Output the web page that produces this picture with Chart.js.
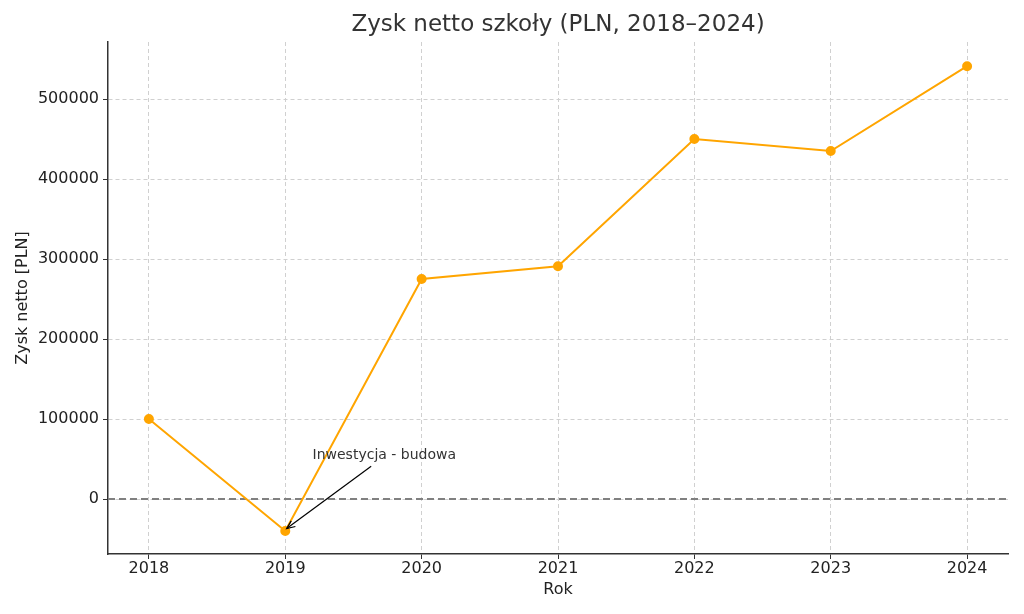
<!DOCTYPE html>
<html>
<head>
<meta charset="utf-8">
<script src="https://cdn.jsdelivr.net/npm/chart.js"></script>
<style>
  html, body { margin: 0; padding: 0; background: #fff; }
  #wrap { width: 1024px; height: 614px; }
</style>
</head>
<body>
<div id="wrap"><canvas id="profitChart" width="1024" height="614"></canvas></div>
<script>
// data
const years = [2018, 2019, 2020, 2021, 2022, 2023, 2024];
const netProfit = [100000, -40000, 275000, 291000, 450000, 435000, 541000];
const yTicks = [0, 100000, 200000, 300000, 400000, 500000];

// annotation: text position and arrow in data units
const noteText = 'Inwestycja - budowa';
const noteAt = [2019.2, 55000];
const arrowFrom = [2019.63, 41000];
const arrowTo = [2019.01, -37000];

const titleText = 'Zysk netto szkoły (PLN, 2018–2024)';
const font = "'DejaVu Sans', sans-serif";

// title centred over the plot area, like matplotlib does it
const titlePlugin = {
    id: 'plotTitle',
    afterDraw(chart) {
        const { ctx, chartArea } = chart;
        ctx.save();
        ctx.font = '23px ' + font;
        ctx.fillStyle = '#333';
        ctx.textAlign = 'center';
        ctx.textBaseline = 'middle';
        ctx.fillText(titleText, (chartArea.left + chartArea.right) / 2, 25);
        ctx.restore();
    }
};

// draws the annotation text + arrow
const notePlugin = {
    id: 'note',
    afterDatasetsDraw(chart) {
        const { ctx, scales: { x, y } } = chart;
        ctx.save();
        ctx.font = '14px ' + font;
        ctx.fillStyle = '#333';
        ctx.textBaseline = 'middle';
        ctx.fillText(noteText, x.getPixelForValue(noteAt[0]), y.getPixelForValue(noteAt[1]));

        const x1 = x.getPixelForValue(arrowFrom[0]), y1 = y.getPixelForValue(arrowFrom[1]);
        const x2 = x.getPixelForValue(arrowTo[0]), y2 = y.getPixelForValue(arrowTo[1]);
        ctx.strokeStyle = '#000';
        ctx.lineWidth = 1.2;
        ctx.beginPath();
        ctx.moveTo(x1, y1);
        ctx.lineTo(x2, y2);
        ctx.stroke();
        const a = Math.atan2(y2 - y1, x2 - x1);
        const len = 9;
        ctx.beginPath();
        ctx.moveTo(x2 - len * Math.cos(a - 0.4), y2 - len * Math.sin(a - 0.4));
        ctx.lineTo(x2, y2);
        ctx.lineTo(x2 - len * Math.cos(a + 0.4), y2 - len * Math.sin(a + 0.4));
        ctx.stroke();
        ctx.restore();
    }
};

const xMin = 2017.7, xMax = 2024.3;

new Chart(document.getElementById('profitChart'), {
    type: 'line',
    data: {
        datasets: [
            {
                label: 'zero',
                data: [{ x: xMin, y: 0 }, { x: xMax, y: 0 }],
                borderColor: '#808080',
                borderWidth: 2,
                borderDash: [7, 4],
                pointRadius: 0,
                order: 2,
            },
            {
                label: 'Zysk netto',
                data: years.map((yr, i) => ({ x: yr, y: netProfit[i] })),
                borderColor: '#FFA500',
                backgroundColor: '#FFA500',
                borderWidth: 2,
                pointRadius: 4,
                pointHoverRadius: 4,
                tension: 0,
                order: 1,
            },
        ],
    },
    options: {
        responsive: false,
        animation: false,
        layout: { padding: { left: 8, right: 16, top: 42, bottom: 0 } },
        plugins: {
            legend: { display: false },
            tooltip: { enabled: false },
            title: { display: false },
        },
        scales: {
            x: {
                type: 'linear',
                min: xMin,
                max: xMax,
                afterBuildTicks: (s) => { s.ticks = years.map(v => ({ value: v })); },
                afterFit: (s) => { s.height = 60; },
                ticks: {
                    color: '#222',
                    font: { family: font, size: 16 },
                    padding: 0,
                    callback: (v) => String(v),
                },
                grid: {
                    color: '#d0d0d0',
                    tickColor: '#333',
                    tickLength: 5,
                    tickBorderDash: [],
                },
                border: { display: true, color: '#333', width: 1.5, dash: [4, 3] },
                title: {
                    display: true,
                    text: 'Rok',
                    color: '#222',
                    font: { family: font, size: 16 },
                    padding: { top: 0, bottom: 15 },
                },
            },
            y: {
                min: -68750,
                max: 571250,
                afterBuildTicks: (s) => { s.ticks = yTicks.map(v => ({ value: v })); },
                afterFit: (s) => { s.width = 100; },
                ticks: {
                    color: '#222',
                    font: { family: font, size: 16 },
                    padding: 4,
                    callback: (v) => String(v),
                },
                grid: {
                    color: '#d0d0d0',
                    tickColor: '#333',
                    tickLength: 5,
                    tickBorderDash: [],
                },
                border: { display: true, color: '#333', width: 1.5, dash: [4, 3] },
                title: {
                    display: true,
                    text: 'Zysk netto [PLN]',
                    color: '#222',
                    font: { family: font, size: 16 },
                    padding: { top: 5, bottom: 4 },
                },
            },
        },
    },
    plugins: [notePlugin, titlePlugin],
});
</script>
</body>
</html>
